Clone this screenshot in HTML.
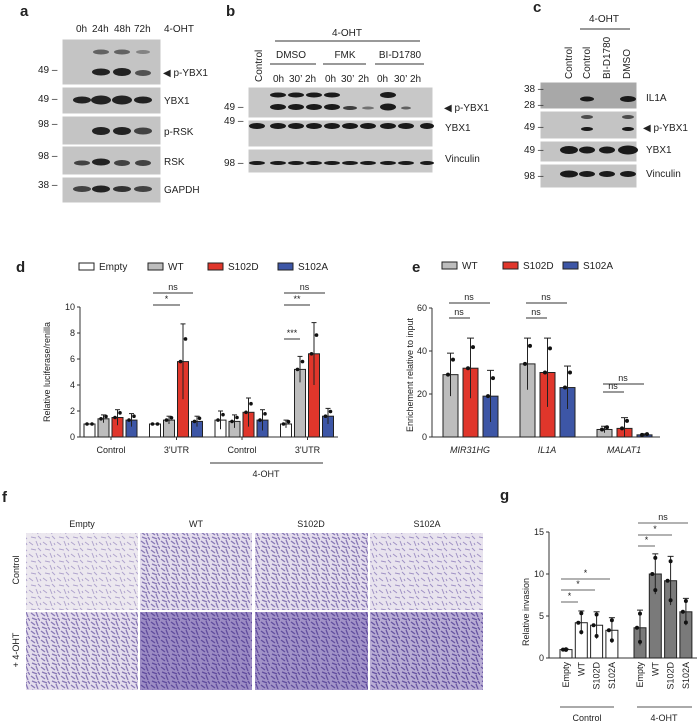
<!DOCTYPE html>
<html><head><meta charset="utf-8"><style>
body{margin:0;background:#fff}
svg{display:block;font-family:"Liberation Sans",sans-serif}
text{fill:#222}
</style></head><body>
<svg id="fig" width="700" height="724" viewBox="0 0 700 724" xmlns="http://www.w3.org/2000/svg">
<defs>
<pattern id="cells" width="14" height="12" patternUnits="userSpaceOnUse">
<path d="M1 2l4 3M8 1l2 5M3 9l5 1M10 8l3 3M12 3l1 2" stroke="#6e5aa8" stroke-width="1" opacity="0.6"/>
</pattern>
<pattern id="cells2" width="10" height="9" patternUnits="userSpaceOnUse">
<path d="M1 1l4 3M6 0l2 5M2 6l5 2M8 6l2 3" stroke="#4a3590" stroke-width="1.3" opacity="0.75"/>
</pattern>
</defs>

<!-- Panel a -->
<g font-size="10">
<text x="20" y="16" font-size="15" font-weight="bold">a</text>
<text x="76" y="32">0h</text>
<text x="92" y="32">24h</text>
<text x="114" y="32">48h</text>
<text x="134" y="32">72h</text>
<text x="164" y="32">4-OHT</text>
<g fill="#c4c4c4" stroke="#fff">
<rect x="62" y="39" width="99" height="46"/>
<rect x="62" y="87" width="99" height="27"/>
<rect x="62" y="116" width="99" height="29"/>
<rect x="62" y="146" width="99" height="29"/>
<rect x="62" y="177" width="99" height="26"/>
</g>
<g fill="#222">
<ellipse cx="101" cy="52" rx="8" ry="2.5" opacity=".6"/><ellipse cx="122" cy="52" rx="8" ry="2.5" opacity=".6"/><ellipse cx="143" cy="52" rx="7" ry="2" opacity=".4"/>
<ellipse cx="101" cy="72" rx="9" ry="3.5"/><ellipse cx="122" cy="72" rx="9" ry="4"/><ellipse cx="143" cy="73" rx="8" ry="3" opacity=".7"/>
<ellipse cx="82" cy="100" rx="9" ry="3.5"/><ellipse cx="101" cy="100" rx="10" ry="4.5"/><ellipse cx="122" cy="100" rx="10" ry="4.5"/><ellipse cx="143" cy="100" rx="9" ry="3.5"/>
<ellipse cx="101" cy="131" rx="9" ry="4"/><ellipse cx="122" cy="131" rx="9" ry="4"/><ellipse cx="143" cy="131" rx="9" ry="3.5" opacity=".8"/>
<ellipse cx="82" cy="163" rx="8" ry="2.5" opacity=".8"/><ellipse cx="101" cy="162" rx="9" ry="3.5"/><ellipse cx="122" cy="163" rx="8" ry="3" opacity=".8"/><ellipse cx="143" cy="163" rx="8" ry="3" opacity=".8"/>
<ellipse cx="82" cy="189" rx="9" ry="3" opacity=".8"/><ellipse cx="101" cy="189" rx="9" ry="3.5"/><ellipse cx="122" cy="189" rx="9" ry="3" opacity=".9"/><ellipse cx="143" cy="189" rx="9" ry="3" opacity=".8"/>
</g>
<text x="38" y="73">49 –</text><text x="38" y="102">49 –</text><text x="38" y="127">98 –</text><text x="38" y="159">98 –</text><text x="38" y="188">38 –</text>
<text x="163" y="76">◀ p-YBX1</text><text x="164" y="104">YBX1</text><text x="164" y="135">p-RSK</text><text x="164" y="165">RSK</text><text x="164" y="193">GAPDH</text>
</g>

<!-- Panel b -->
<g font-size="10">
<text x="226" y="16" font-size="15" font-weight="bold">b</text>
<text x="332" y="36">4-OHT</text><line x1="275" y1="41" x2="420" y2="41" stroke="#333"/>
<text x="291" y="58" text-anchor="middle">DMSO</text><text x="345" y="58" text-anchor="middle">FMK</text><text x="400" y="58" text-anchor="middle">BI-D1780</text>
<line x1="270" y1="64" x2="316" y2="64" stroke="#333"/><line x1="323" y1="64" x2="366" y2="64" stroke="#333"/><line x1="375" y1="64" x2="424" y2="64" stroke="#333"/>
<text transform="translate(262,82) rotate(-90)">Control</text>
<text x="273" y="82">0h</text><text x="289" y="82">30’</text><text x="305" y="82">2h</text><text x="325" y="82">0h</text><text x="341" y="82">30’</text><text x="358" y="82">2h</text><text x="377" y="82">0h</text><text x="394" y="82">30’</text><text x="410" y="82">2h</text>
<g fill="#c8c8c8" stroke="#fff">
<rect x="248" y="87" width="185" height="31"/>
<rect x="248" y="120" width="185" height="27"/>
<rect x="248" y="149" width="185" height="24"/>
</g>
<g fill="#1a1a1a">
<ellipse cx="278" cy="95" rx="8" ry="2.5"/><ellipse cx="296" cy="95" rx="8" ry="2.5"/><ellipse cx="314" cy="95" rx="8" ry="2.5"/><ellipse cx="332" cy="95" rx="8" ry="2.5"/><ellipse cx="388" cy="95" rx="8" ry="3"/>
<ellipse cx="278" cy="107" rx="8" ry="3"/><ellipse cx="296" cy="107" rx="8" ry="3"/><ellipse cx="314" cy="107" rx="8" ry="3"/><ellipse cx="332" cy="107" rx="8" ry="3"/><ellipse cx="350" cy="108" rx="7" ry="2" opacity=".8"/><ellipse cx="368" cy="108" rx="6" ry="1.5" opacity=".5"/><ellipse cx="388" cy="107" rx="8" ry="3.5"/><ellipse cx="406" cy="108" rx="5" ry="1.5" opacity=".6"/>
<ellipse cx="257" cy="126" rx="8" ry="3"/><ellipse cx="278" cy="126" rx="8" ry="3"/><ellipse cx="296" cy="126" rx="8" ry="3"/><ellipse cx="314" cy="126" rx="8" ry="3"/><ellipse cx="332" cy="126" rx="8" ry="3"/><ellipse cx="350" cy="126" rx="8" ry="3"/><ellipse cx="368" cy="126" rx="8" ry="3"/><ellipse cx="388" cy="126" rx="8" ry="3"/><ellipse cx="406" cy="126" rx="8" ry="3"/><ellipse cx="427" cy="126" rx="7" ry="3"/>
<ellipse cx="257" cy="163" rx="8" ry="2"/><ellipse cx="278" cy="163" rx="8" ry="2"/><ellipse cx="296" cy="163" rx="8" ry="2"/><ellipse cx="314" cy="163" rx="8" ry="2"/><ellipse cx="332" cy="163" rx="8" ry="2"/><ellipse cx="350" cy="163" rx="8" ry="2"/><ellipse cx="368" cy="163" rx="8" ry="2"/><ellipse cx="388" cy="163" rx="8" ry="2"/><ellipse cx="406" cy="163" rx="8" ry="2"/><ellipse cx="427" cy="163" rx="7" ry="2"/>
</g>
<text x="224" y="110">49 –</text><text x="224" y="124">49 –</text><text x="224" y="166">98 –</text>
<text x="444" y="111">◀ p-YBX1</text><text x="445" y="131">YBX1</text><text x="445" y="162">Vinculin</text>
</g>

<!-- Panel c -->
<g font-size="10">
<text x="533" y="12" font-size="15" font-weight="bold">c</text>
<text x="589" y="22">4-OHT</text><line x1="580" y1="29" x2="630" y2="29" stroke="#333"/>
<text transform="translate(572,79) rotate(-90)">Control</text><text transform="translate(590,79) rotate(-90)">Control</text><text transform="translate(610,79) rotate(-90)">BI-D1780</text><text transform="translate(630,79) rotate(-90)">DMSO</text>
<g fill="#c4c4c4" stroke="#fff">
<rect x="540" y="82" width="97" height="27" fill="#a8a8a8"/>
<rect x="540" y="111" width="97" height="28"/>
<rect x="540" y="141" width="97" height="21"/>
<rect x="540" y="164" width="97" height="24"/>
</g>
<g fill="#1a1a1a">
<ellipse cx="587" cy="99" rx="7" ry="2.5"/><ellipse cx="628" cy="99" rx="8" ry="3"/>
<ellipse cx="587" cy="117" rx="6" ry="2" opacity=".7"/><ellipse cx="628" cy="117" rx="6" ry="2" opacity=".7"/>
<ellipse cx="587" cy="129" rx="6" ry="2"/><ellipse cx="628" cy="129" rx="6" ry="2"/>
<ellipse cx="569" cy="150" rx="9" ry="4"/><ellipse cx="587" cy="150" rx="8" ry="3.5"/><ellipse cx="607" cy="150" rx="8" ry="3.5"/><ellipse cx="628" cy="150" rx="10" ry="4.5"/>
<ellipse cx="569" cy="174" rx="9" ry="3.5"/><ellipse cx="587" cy="174" rx="8" ry="3"/><ellipse cx="607" cy="174" rx="8" ry="3"/><ellipse cx="628" cy="174" rx="8" ry="3"/>
</g>
<text x="524" y="92">38 –</text><text x="524" y="108">28 –</text><text x="524" y="130">49 –</text><text x="524" y="153">49 –</text><text x="524" y="179">98 –</text>
<text x="646" y="101">IL1A</text><text x="643" y="131">◀ p-YBX1</text><text x="646" y="153">YBX1</text><text x="646" y="177">Vinculin</text>
</g>

<!-- Panel d -->
<g id="pd" font-size="9">
<text x="16" y="272" font-size="15" font-weight="bold">d</text>
<text transform="translate(50,372) rotate(-90)" text-anchor="middle">Relative luciferase/renilla</text>
<line x1="210" y1="463" x2="323" y2="463" stroke="#333"/>
<text x="266" y="477" text-anchor="middle">4-OHT</text>
</g>

<!-- Panel e -->
<g id="pe" font-size="9">
<text x="412" y="272" font-size="15" font-weight="bold">e</text>
<text transform="translate(413,375) rotate(-90)" text-anchor="middle">Enrichement relative to input</text>
</g>

<!-- Panel f -->
<g font-size="9">
<text x="2" y="502" font-size="15" font-weight="bold">f</text>
<text x="82" y="527" text-anchor="middle">Empty</text><text x="196" y="527" text-anchor="middle">WT</text><text x="311" y="527" text-anchor="middle">S102D</text><text x="427" y="527" text-anchor="middle">S102A</text>
<text transform="translate(19,570) rotate(-90)" text-anchor="middle">Control</text>
<text transform="translate(19,650) rotate(-90)" text-anchor="middle">+ 4-OHT</text>
<g>
<rect x="26" y="533" width="112" height="77" fill="#ece8ef"/><rect x="26" y="533" width="112" height="77" fill="url(#cells)" opacity=".8"/>
<rect x="140" y="533" width="112" height="77" fill="#e3dcec"/><rect x="140" y="533" width="112" height="77" fill="url(#cells2)" opacity=".8"/>
<rect x="255" y="533" width="113" height="77" fill="#e3dcec"/><rect x="255" y="533" width="113" height="77" fill="url(#cells2)" opacity=".8"/>
<rect x="370" y="533" width="113" height="77" fill="#e8e3ee"/><rect x="370" y="533" width="113" height="77" fill="url(#cells)"/>
</g>
<g>
<rect x="26" y="612" width="112" height="78" fill="#e3dcec"/><rect x="26" y="612" width="112" height="78" fill="url(#cells2)" opacity=".8"/>
<rect x="140" y="612" width="112" height="78" fill="#9c8cc4"/><rect x="140" y="612" width="112" height="78" fill="url(#cells2)"/>
<rect x="255" y="612" width="113" height="78" fill="#a293c8"/><rect x="255" y="612" width="113" height="78" fill="url(#cells2)"/>
<rect x="370" y="612" width="113" height="78" fill="#b8acd4"/><rect x="370" y="612" width="113" height="78" fill="url(#cells2)"/>
</g>
</g>

<!-- Panel g -->
<g id="pg" font-size="9">
<text x="500" y="500" font-size="15" font-weight="bold">g</text>
<text transform="translate(529,612) rotate(-90)" text-anchor="middle">Relative invasion</text>
<line x1="560" y1="707" x2="614" y2="707" stroke="#555"/><line x1="637" y1="707" x2="692" y2="707" stroke="#555"/>
<text x="587" y="721" text-anchor="middle">Control</text><text x="664" y="721" text-anchor="middle">4-OHT</text>
</g>
</svg>
<script>
// ---- Panel d data ----
const dGroups=["Control","3'UTR","Control","3'UTR"];
const dSeries=["Empty","WT","S102D","S102A"];
const dColors=["#ffffff","#bdbdbd","#e0362b","#3d56a6"];
const dMeans=[[1.0,1.0,1.3,1.0],[1.4,1.3,1.2,5.2],[1.5,5.8,1.9,6.4],[1.3,1.2,1.3,1.6]];
const dErr=[[0,0,0.7,0.3],[0.3,0.3,0.5,1.0],[0.6,2.9,1.1,2.4],[0.5,0.4,0.8,0.6]];
const dTicks=[0,2,4,6,8,10];
// ---- Panel e data ----
const eGroups=["MIR31HG","IL1A","MALAT1"];
const eSeries=["WT","S102D","S102A"];
const eColors=["#bdbdbd","#e0362b","#3d56a6"];
const eMeans=[[29,34,3.5],[32,30,4],[19,23,1]];
const eErr=[[10,12,1.5],[14,16,5],[12,10,0.5]];
const eTicks=[0,20,40,60];
// ---- Panel g data ----
const gCats=["Empty","WT","S102D","S102A"];
const gCtrl=[1.0,4.2,3.9,3.3];
const gCtrlErr=[0.05,1.4,1.6,1.5];
const gOht=[3.6,10.0,9.2,5.5];
const gOhtErr=[2.1,2.4,2.9,1.6];
const gTicks=[0,5,10,15];

const NS="http://www.w3.org/2000/svg";
function mk(p,t,a){const e=document.createElementNS(NS,t);for(const k in a)e.setAttribute(k,a[k]);p.appendChild(e);return e;}

// Panel d
(function(){
const g=document.getElementById('pd');
const y=v=>437-v*13, x0=80;
mk(g,'line',{x1:x0,y1:y(10),x2:x0,y2:y(0),stroke:'#333'});
mk(g,'line',{x1:x0,y1:y(0),x2:338,y2:y(0),stroke:'#333'});
dTicks.forEach(t=>{mk(g,'line',{x1:x0-3,y1:y(t),x2:x0,y2:y(t),stroke:'#333'});const tx=mk(g,'text',{x:x0-5,y:y(t)+3,'text-anchor':'end'});tx.textContent=t;});
const lxs=[79,148,208,278];
dSeries.forEach((s,i)=>{const lx=lxs[i];const r=mk(g,'rect',{x:lx,y:263,width:15,height:7,fill:dColors[i],stroke:'#222'});


const t=mk(g,'text',{x:lx+20,y:270,'font-size':10});t.textContent=s;});
dGroups.forEach((gn,gi)=>{const gx=84+gi*65.5;
const c=gx+27;mk(g,'line',{x1:c,y1:y(0),x2:c,y2:y(0)+3,stroke:'#333'});
const t=mk(g,'text',{x:c,y:453,'text-anchor':'middle'});t.textContent=gn;
dSeries.forEach((s,si)=>{const bx=gx+si*14,v=dMeans[si][gi],e=dErr[si][gi];
const r=mk(g,'rect',{x:bx,y:y(v),width:11,height:y(0)-y(v),fill:dColors[si],stroke:'#222'});


mk(g,'line',{x1:bx+5.5,y1:y(v+e),x2:bx+5.5,y2:y(Math.max(0,v-e)),stroke:'#222'});
mk(g,'line',{x1:bx+3,y1:y(v+e),x2:bx+8,y2:y(v+e),stroke:'#222'});
mk(g,'circle',{cx:bx+3,cy:y(v),r:1.8,fill:'#111'});mk(g,'circle',{cx:bx+8,cy:y(v+e*0.6),r:1.8,fill:'#111'});});});
[[153,193,293,'ns'],[153,180,305,'*'],[284,325,293,'ns'],[284,310,305,'**'],[284,300,339,'***']].forEach(a=>{mk(g,'line',{x1:a[0],y1:a[2],x2:a[1],y2:a[2],stroke:'#333'});const t=mk(g,'text',{x:(a[0]+a[1])/2,y:a[2]-3,'text-anchor':'middle'});t.textContent=a[3];});
})();

// Panel e
(function(){
const g=document.getElementById('pe');
const y=v=>437-v*2.15,x0=432;
mk(g,'line',{x1:x0,y1:y(60),x2:x0,y2:y(0),stroke:'#333'});
mk(g,'line',{x1:x0,y1:y(0),x2:660,y2:y(0),stroke:'#333'});
eTicks.forEach(t=>{mk(g,'line',{x1:x0-3,y1:y(t),x2:x0,y2:y(t),stroke:'#333'});const tx=mk(g,'text',{x:x0-5,y:y(t)+3,'text-anchor':'end'});tx.textContent=t;});
const lxs=[442,503,563];
eSeries.forEach((s,i)=>{const lx=lxs[i];const r=mk(g,'rect',{x:lx,y:262,width:15,height:7,fill:eColors[i],stroke:'#222'});


const t=mk(g,'text',{x:lx+20,y:269,'font-size':10});t.textContent=s;});
eGroups.forEach((gn,gi)=>{const gx=443+gi*77;
const t=mk(g,'text',{x:gx+27,y:453,'text-anchor':'middle','font-style':'italic'});t.textContent=gn;
eSeries.forEach((s,si)=>{const bx=gx+si*20,v=eMeans[si][gi],e=eErr[si][gi];
const r=mk(g,'rect',{x:bx,y:y(v),width:15,height:y(0)-y(v),fill:eColors[si],stroke:'#222'});


mk(g,'line',{x1:bx+7.5,y1:y(v+e),x2:bx+7.5,y2:y(Math.max(0,v-e)),stroke:'#222'});
mk(g,'line',{x1:bx+4,y1:y(v+e),x2:bx+11,y2:y(v+e),stroke:'#222'});
mk(g,'circle',{cx:bx+5,cy:y(v),r:2,fill:'#111'});mk(g,'circle',{cx:bx+10,cy:y(v+e*0.7),r:2,fill:'#111'});});
const top=gi<2?303:384, low=gi<2?318:392;
mk(g,'line',{x1:gx+6,y1:low,x2:gx+27,y2:low,stroke:'#333'});mk(g,'line',{x1:gx+6,y1:top,x2:gx+47,y2:top,stroke:'#333'});
const a=mk(g,'text',{x:gx+16,y:low-3,'text-anchor':'middle'});a.textContent='ns';
const b=mk(g,'text',{x:gx+26,y:top-3,'text-anchor':'middle'});b.textContent='ns';});
})();

// Panel g
(function(){
const g=document.getElementById('pg');
const y=v=>658-v*8.4,x0=549;
mk(g,'line',{x1:x0,y1:y(15),x2:x0,y2:y(0),stroke:'#333'});
mk(g,'line',{x1:x0,y1:y(0),x2:697,y2:y(0),stroke:'#333'});
gTicks.forEach(t=>{mk(g,'line',{x1:x0-3,y1:y(t),x2:x0,y2:y(t),stroke:'#333'});const tx=mk(g,'text',{x:x0-5,y:y(t)+3,'text-anchor':'end'});tx.textContent=t;});
function grp(vals,errs,start,fill,tag){gCats.forEach((c,i)=>{const bx=start+i*15.3,v=vals[i],e=errs[i];
const r=mk(g,'rect',{x:bx,y:y(v),width:12,height:y(0)-y(v),fill:fill,stroke:'#222'});


mk(g,'line',{x1:bx+6,y1:y(v+e),x2:bx+6,y2:y(Math.max(0,v-e)),stroke:'#222'});
mk(g,'line',{x1:bx+3,y1:y(v+e),x2:bx+9,y2:y(v+e),stroke:'#222'});
mk(g,'circle',{cx:bx+6,cy:y(v+e*0.8),r:2,fill:'#111'});mk(g,'circle',{cx:bx+6,cy:y(Math.max(0,v-e*0.8)),r:2,fill:'#111'});mk(g,'circle',{cx:bx+3,cy:y(v),r:2,fill:'#111'});
const t=mk(g,'text',{transform:`translate(${bx+9},${y(0)+4}) rotate(-90)`,'text-anchor':'end'});t.textContent=c;});}
grp(gCtrl,gCtrlErr,560,'#ffffff','control');
grp(gOht,gOhtErr,634,'#7a7a7a','4oht');
[[561,610,579,'*'],[561,595,590,'*'],[561,578,602,'*'],[638,688,523,'ns'],[638,672,535,'*'],[638,655,546,'*']].forEach(a=>{mk(g,'line',{x1:a[0],y1:a[2],x2:a[1],y2:a[2],stroke:'#666'});const t=mk(g,'text',{x:(a[0]+a[1])/2,y:a[2]-3,'text-anchor':'middle'});t.textContent=a[3];});
})();
</script>
</body></html>
